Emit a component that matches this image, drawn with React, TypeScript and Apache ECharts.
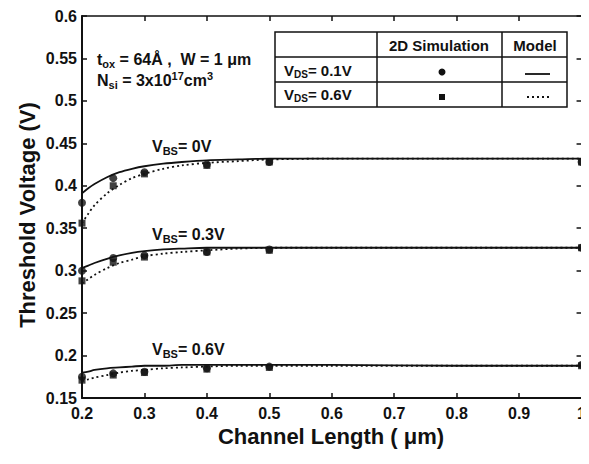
import React, { useEffect, useRef } from "react";
import * as echarts from "echarts";

// Model curve sampling points (channel length, µm)
const modelX = [0.2, 0.21, 0.22, 0.24, 0.26, 0.28, 0.3, 0.33, 0.36, 0.4, 0.45, 0.5, 0.6, 0.8, 1.0];
// Model, VDS = 0.1 V (solid)
const modelSolidVbs0 = [0.391, 0.397, 0.402, 0.41, 0.416, 0.42, 0.423, 0.426, 0.428, 0.43, 0.431, 0.432, 0.432, 0.432, 0.432];
const modelSolidVbs03 = [0.303, 0.306, 0.309, 0.314, 0.318, 0.321, 0.323, 0.325, 0.326, 0.327, 0.327, 0.327, 0.327, 0.327, 0.327];
const modelSolidVbs06 = [0.18, 0.181, 0.183, 0.185, 0.186, 0.187, 0.188, 0.188, 0.189, 0.189, 0.189, 0.189, 0.189, 0.188, 0.188];
// Model, VDS = 0.6 V (dotted)
const modelDotVbs0 = [0.356, 0.367, 0.377, 0.391, 0.401, 0.409, 0.414, 0.42, 0.424, 0.427, 0.429, 0.431, 0.432, 0.432, 0.432];
const modelDotVbs03 = [0.285, 0.29, 0.295, 0.303, 0.309, 0.313, 0.317, 0.32, 0.322, 0.324, 0.326, 0.327, 0.327, 0.327, 0.327];
const modelDotVbs06 = [0.17, 0.172, 0.174, 0.177, 0.18, 0.182, 0.183, 0.185, 0.186, 0.187, 0.188, 0.188, 0.188, 0.188, 0.188];

// 2D simulation points
const simX = [0.2, 0.25, 0.3, 0.4, 0.5, 1.0];
const simCircleVbs0 = [0.38, 0.409, 0.416, 0.425, 0.428, 0.428];
const simCircleVbs03 = [0.3, 0.315, 0.318, 0.322, 0.325, 0.327];
const simCircleVbs06 = [0.175, 0.179, 0.181, 0.185, 0.187, 0.189];
const simSquareVbs0 = [0.356, 0.4, 0.414, 0.424, 0.428, 0.428];
const simSquareVbs03 = [0.288, 0.31, 0.316, 0.322, 0.324, 0.327];
const simSquareVbs06 = [0.171, 0.177, 0.18, 0.184, 0.186, 0.188];

const curveLabels = ["0V", "0.3V", "0.6V"];

const FONT = "'Liberation Sans', Arial, Helvetica, sans-serif";
const INK = "#111";

const pair = (xs: number[], ys: number[]) => xs.map((x, i) => [x, ys[i]]);

const makeRich = (size: number) => {
  const s = Math.round(size * 0.68);
  const off = Math.round(size * 0.55);
  return {
    n: { fontSize: size, fontWeight: "bold", fontFamily: FONT, fill: INK, color: INK },
    sub: { fontSize: s, fontWeight: "bold", fontFamily: FONT, fill: INK, color: INK, padding: [off, 0, 0, 0] },
    sup: { fontSize: s, fontWeight: "bold", fontFamily: FONT, fill: INK, color: INK, padding: [0, 0, off, 0] },
  };
};

function txt(text: string, x: number, y: number, size = 15, extra: any = {}) {
  return {
    type: "text",
    x,
    y,
    silent: true,
    style: {
      text,
      rich: makeRich(size),
      fill: INK,
      font: `bold ${size}px ${FONT}`,
      verticalAlign: "middle",
      align: "left",
      ...extra,
    },
  };
}

export default function App() {
  const ref = useRef<HTMLDivElement>(null);
  useEffect(() => {
    if (!ref.current) return;
    const chart = echarts.init(ref.current, null, { renderer: "svg" });

    const lineSeries = (data: number[], dotted: boolean) => ({
      type: "line",
      data: pair(modelX, data),
      smooth: 0.3,
      showSymbol: false,
      symbol: "none",
      lineStyle: { color: INK, width: 1.8, type: dotted ? [2, 3] : "solid" },
      z: 3,
    });
    const scatterSeries = (data: number[], square: boolean) => ({
      type: "scatter",
      data: pair(simX, data),
      symbol: square ? "rect" : "circle",
      symbolSize: square ? 7 : 8,
      itemStyle: { color: INK },
      clip: false,
      z: 4,
    });

    const axisCommon = {
      type: "value",
      splitLine: { show: false },
      axisLine: { show: true, lineStyle: { color: INK, width: 2 } },
      axisTick: { show: true, inside: true, length: 5, lineStyle: { color: INK, width: 1.5 } },
    };

    // Table lines
    const tL = 275, tR = 567, tT = 32, tB = 107, h1 = 57, h2 = 82, c1 = 377, c2 = 502;
    const ln = (x1: number, y1: number, x2: number, y2: number, w = 1.5, dash?: number[]) => ({
      type: "line",
      silent: true,
      shape: { x1, y1, x2, y2 },
      style: { stroke: INK, lineWidth: w, lineDash: dash },
    });

    const tickFont = { color: INK, fontSize: 16, fontWeight: "bold", fontFamily: FONT };

    const option: any = {
      animation: false,
      grid: { left: 82, right: 2, top: 16, bottom: 66, containLabel: false },
      xAxis: [
        {
          ...axisCommon,
          min: 0.2,
          max: 1,
          interval: 0.1,
          axisLabel: { ...tickFont, margin: 7 },
        },
        {
          ...axisCommon,
          position: "top",
          min: 0.2,
          max: 1,
          interval: 0.1,
          axisLine: { show: true, lineStyle: { color: INK, width: 1.5 } },
          axisLabel: { show: false },
        },
      ],
      yAxis: [
        {
          ...axisCommon,
          min: 0.15,
          max: 0.6,
          interval: 0.05,
          axisLabel: { ...tickFont, margin: 5 },
        },
        {
          ...axisCommon,
          position: "right",
          min: 0.15,
          max: 0.6,
          interval: 0.05,
          axisLabel: { show: false },
        },
      ],
      series: [
        lineSeries(modelSolidVbs0, false),
        lineSeries(modelSolidVbs03, false),
        lineSeries(modelSolidVbs06, false),
        lineSeries(modelDotVbs0, true),
        lineSeries(modelDotVbs03, true),
        lineSeries(modelDotVbs06, true),
        scatterSeries(simCircleVbs0, false),
        scatterSeries(simCircleVbs03, false),
        scatterSeries(simCircleVbs06, false),
        scatterSeries(simSquareVbs0, true),
        scatterSeries(simSquareVbs03, true),
        scatterSeries(simSquareVbs06, true),
      ],
      graphic: [
        // axis titles
        {
          type: "text",
          x: 27,
          y: 215,
          rotation: Math.PI / 2,
          silent: true,
          style: {
            text: "Threshold Voltage (V)",
            font: `bold 22px ${FONT}`,
            fill: INK,
            align: "center",
            verticalAlign: "middle",
          },
        },
        {
          type: "text",
          x: 331,
          y: 436,
          silent: true,
          style: {
            text: "Channel Length ( \u03bcm)",
            font: `bold 22px ${FONT}`,
            fill: INK,
            align: "center",
            verticalAlign: "middle",
          },
        },
        // parameters
        txt("{n|t}{sub|ox}{n| = 64\u00c5 ,  W = 1 \u03bcm}", 97, 59, 16),
        txt("{n|N}{sub|si}{n| = 3x10}{sup|17}{n|cm}{sup|3}", 97, 80, 16),
        // curve labels
        txt(`{n|V}{sub|BS}{n|= ${curveLabels[0]}}`, 152, 146, 16),
        txt(`{n|V}{sub|BS}{n|= ${curveLabels[1]}}`, 152, 234, 16),
        txt(`{n|V}{sub|BS}{n|= ${curveLabels[2]}}`, 152, 349, 16),
        // legend table
        {
          type: "rect",
          silent: true,
          shape: { x: tL, y: tT, width: tR - tL, height: tB - tT },
          style: { fill: "#fff", stroke: INK, lineWidth: 1.5 },
          z: 10,
        },
        { ...ln(tL, h1, tR, h1), z: 11 },
        { ...ln(tL, h2, tR, h2), z: 11 },
        { ...ln(c1, tT, c1, tB), z: 11 },
        { ...ln(c2, tT, c2, tB), z: 11 },
        { ...txt("2D Simulation", 439, 45, 15, { align: "center" }), z: 11 },
        { ...txt("Model", 535, 45, 15, { align: "center" }), z: 11 },
        { ...txt("{n|V}{sub|DS}{n|= 0.1V}", 284, 70, 15), z: 11 },
        { ...txt("{n|V}{sub|DS}{n|= 0.6V}", 284, 94, 15), z: 11 },
        { type: "circle", silent: true, shape: { cx: 442, cy: 72, r: 3.5 }, style: { fill: INK }, z: 11 },
        { type: "rect", silent: true, shape: { x: 439, y: 94, width: 6, height: 6 }, style: { fill: INK }, z: 11 },
        { ...ln(525, 74, 550, 74, 1.8), z: 11 },
        { ...ln(527, 97, 551, 97, 1.8, [2, 3]), z: 11 },
      ],
    };
    chart.setOption(option);
    return () => chart.dispose();
  }, []);
  return <div ref={ref} style={{ width: 589, height: 464, margin: -8, background: "#fff" }} />;
}
